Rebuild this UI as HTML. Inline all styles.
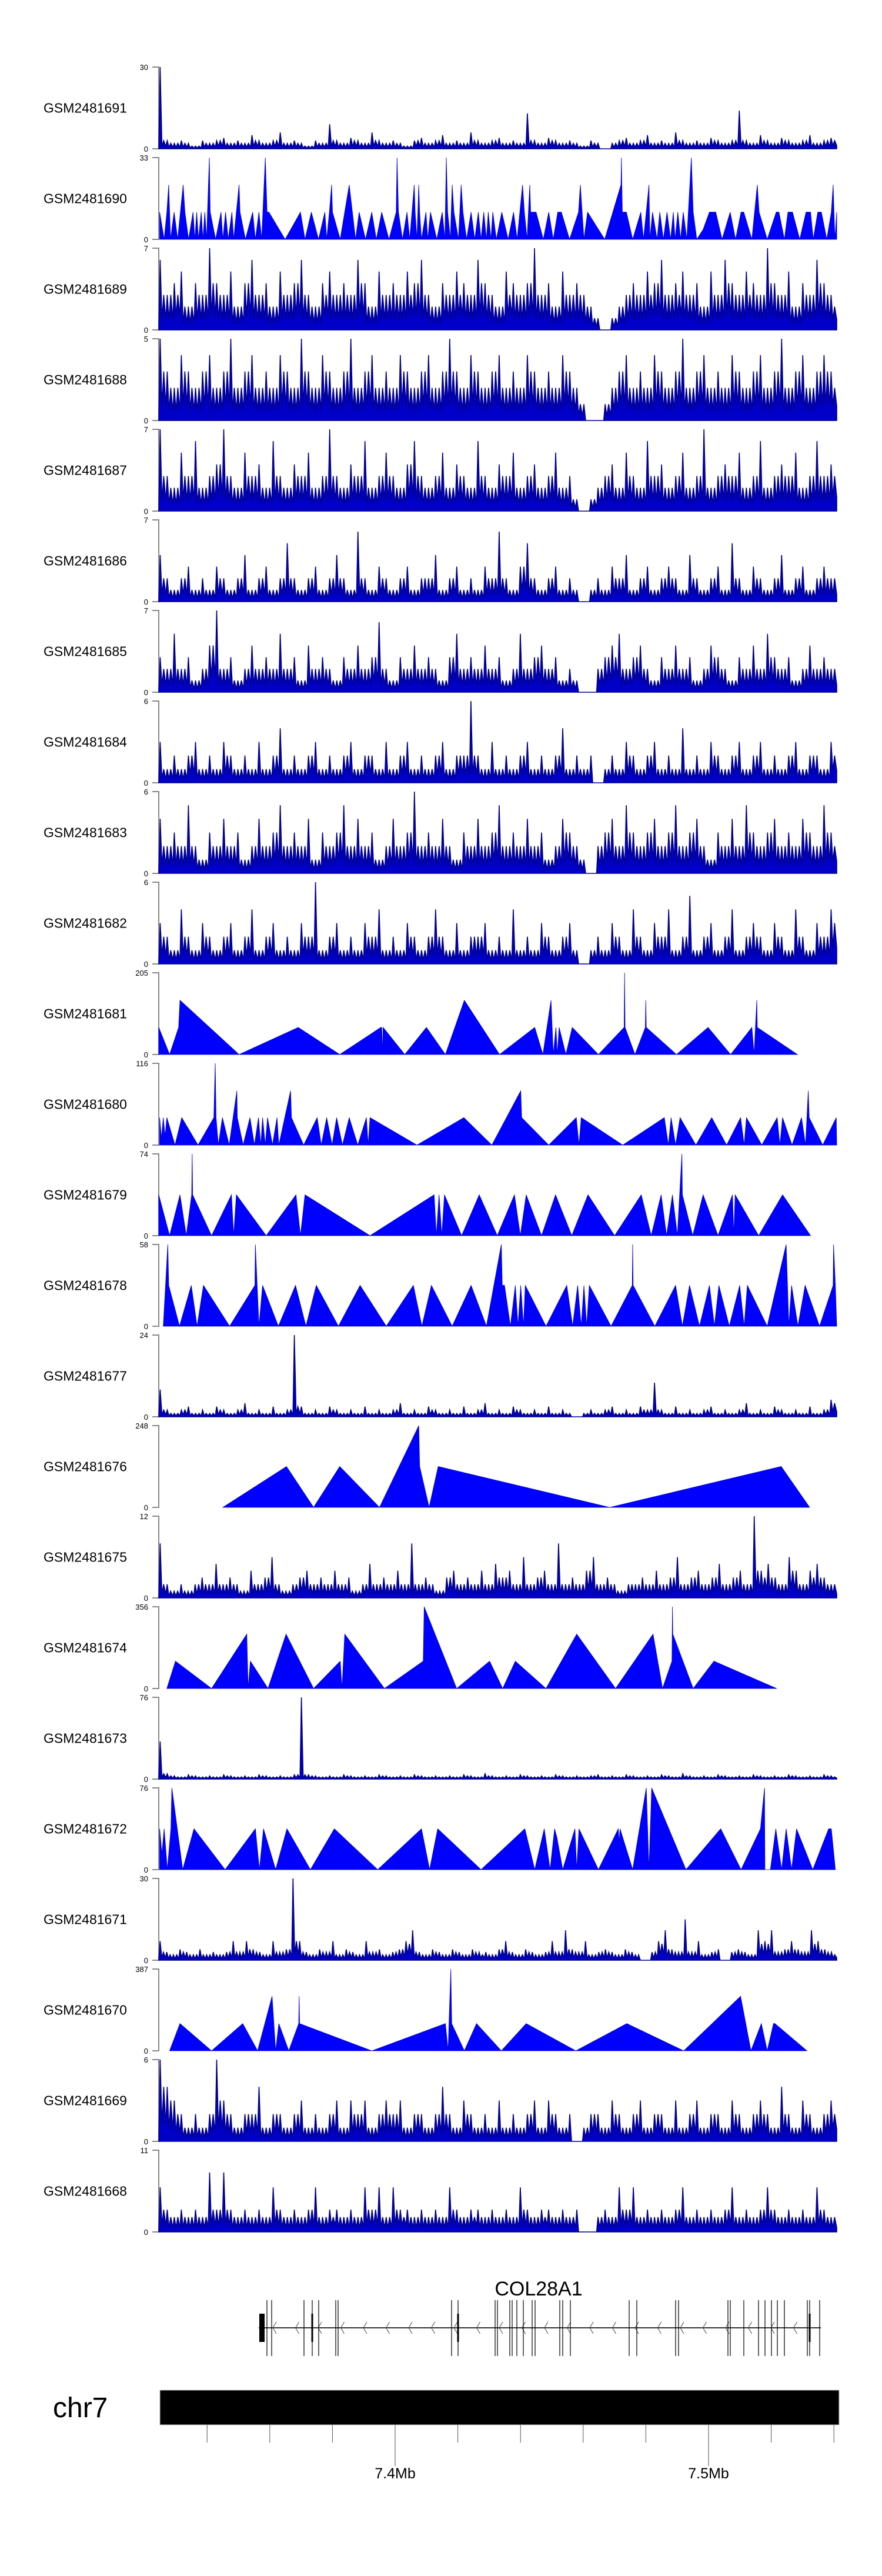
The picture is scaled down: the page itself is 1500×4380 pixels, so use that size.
<!DOCTYPE html>
<html><head><meta charset="utf-8">
<style>
html,body{margin:0;padding:0;background:#fff;}
svg{display:block;}
text{font-family:"Liberation Sans",sans-serif;}
</style></head>
<body>
<svg id="chart" width="1500" height="4380" viewBox="0 0 1500 4380" xmlns="http://www.w3.org/2000/svg">
<rect x="0" y="0" width="1500" height="4380" fill="#fff"/>
<g id="tracks"></g>
<g id="gene"></g>
<g id="ideo"></g>
</svg>
<script>
// ---- data ----
const sampleNames = ["GSM2481691","GSM2481690","GSM2481689","GSM2481688","GSM2481687","GSM2481686","GSM2481685","GSM2481684","GSM2481683","GSM2481682","GSM2481681","GSM2481680","GSM2481679","GSM2481678","GSM2481677","GSM2481676","GSM2481675","GSM2481674","GSM2481673","GSM2481672","GSM2481671","GSM2481670","GSM2481669","GSM2481668"];
const yMaxLabels = [30,33,7,5,7,7,7,6,6,6,205,116,74,58,24,248,12,356,76,76,30,387,6,11];
const trackKinds = ["bins","peaks","bins","bins","bins","bins","bins","bins","bins","bins","peaks","peaks","peaks","peaks","bins","peaks","bins","peaks","bins","peaks","bins","peaks","bins","bins"];

const bins1691 = [30,3,2,3,2,1,3,2,3,4,2,3,2,5,3,2,3,6,2,3,2,1,3,2,9,3,2,4,3,2,6,3,2,3,2,1,3,4,2,3,5,2,3,2,6,3,2,3,4,2,3,2,13,3,2,4,3,2,3,2,1,3,2,0,2,3,4,2,3,5,2,3,2,6,3,2,3,2,4,3,2,3,14,3,2,5,3,2,4,3,2,3,5,2,3,4];
const bins1689 = [6,3,4,5,2,4,3,7,4,3,5,2,4,6,3,4,2,5,3,4,6,3,2,4,5,3,4,3,6,4,2,5,3,4,3,5,4,6,3,2,4,3,5,4,3,6,4,3,2,5,4,3,4,7,3,4,2,5,3,4,3,2,1,0,1,2,3,4,3,5,4,6,3,4,5,3,4,2,5,3,6,4,3,5,4,3,7,4,3,5,2,4,3,6,4,3];
const bins1688 = [5,3,2,4,3,2,3,4,2,3,5,2,3,4,2,3,2,4,3,2,5,3,2,4,3,2,3,5,2,3,4,2,3,2,4,3,2,3,4,2,3,5,3,2,4,3,2,3,4,2,3,2,4,3,2,3,2,4,3,2,1,0,0,1,2,3,4,2,3,2,4,3,2,3,5,2,3,4,2,3,2,4,3,2,3,4,2,3,5,2,3,4,2,3,4,3];
const bins1687 = [7,3,2,5,3,6,2,3,4,7,3,2,5,3,4,2,6,3,2,4,3,5,2,3,7,3,2,4,3,6,2,3,5,3,2,4,6,3,2,3,5,2,4,3,2,6,3,2,4,3,5,2,3,4,2,3,5,2,3,1,0,1,2,3,4,2,5,3,2,6,3,4,2,3,5,2,3,7,2,3,4,3,5,2,3,6,2,3,4,3,5,2,3,6,3,4];
const bins1686 = [4,2,1,2,3,1,2,1,3,2,1,2,4,1,2,3,1,2,5,2,1,2,3,1,2,4,2,1,6,2,1,3,2,1,2,3,1,2,2,4,1,2,3,1,2,1,3,2,6,2,1,3,5,2,1,2,3,1,2,1,0,1,2,1,3,2,4,1,2,3,1,2,3,2,1,4,2,1,2,3,1,5,2,1,3,2,1,2,4,1,2,3,1,2,3,2];
const bins1685 = [3,2,5,2,3,1,2,4,7,2,3,1,2,4,2,3,2,5,2,3,1,4,2,3,2,1,3,2,4,2,3,6,2,1,3,2,4,2,3,2,1,3,5,2,3,2,4,2,3,1,2,5,2,3,4,2,3,1,2,1,0,0,2,3,4,5,2,3,4,2,1,3,2,4,2,3,1,2,4,3,2,1,3,2,4,2,5,3,2,3,1,2,4,2,3,2];
const bins1684 = [3,1,2,1,2,3,1,2,1,3,2,1,2,1,3,1,2,4,1,2,1,2,3,1,2,1,2,3,1,2,2,1,3,1,2,3,1,2,1,2,3,1,2,2,6,2,1,3,1,2,1,2,3,1,2,1,2,4,1,2,1,2,0,1,2,1,3,2,1,2,3,1,2,1,4,1,2,1,3,2,1,2,3,1,2,3,1,2,1,2,3,1,2,2,1,3];
const bins1683 = [4,2,3,2,5,2,1,3,2,4,2,3,1,2,4,2,3,5,2,3,2,4,1,3,2,3,5,2,4,2,3,1,2,4,2,3,6,2,3,2,4,2,1,3,2,4,2,3,5,2,3,2,4,2,3,1,2,4,3,2,1,0,2,3,4,2,5,3,2,3,4,2,3,5,2,3,4,2,1,3,2,4,2,5,3,2,3,4,2,3,2,4,3,2,5,3];
const bins1682 = [3,2,1,4,2,1,3,2,1,2,3,1,2,4,1,2,3,1,2,1,3,2,6,1,2,3,1,2,1,3,2,4,1,2,1,3,2,1,2,4,2,1,3,1,2,2,3,1,2,1,4,1,2,1,3,2,1,2,3,1,0,1,2,1,3,2,1,4,2,1,3,2,4,1,2,5,1,2,3,1,2,4,1,2,3,2,1,3,2,1,4,2,1,3,2,4];
const bins1677 = [8,2,1,2,3,1,2,1,3,2,1,2,4,1,2,1,3,1,2,24,3,1,2,1,3,2,1,2,1,3,1,2,1,2,4,1,2,1,3,2,1,2,1,3,1,2,4,1,2,1,3,2,1,2,1,3,1,2,1,0,1,2,1,2,3,1,2,1,3,2,10,2,1,3,1,2,1,2,3,1,2,1,2,4,1,2,1,3,2,1,2,1,3,1,2,5];
const bins1675 = [8,2,1,2,1,2,3,2,5,2,3,2,1,4,2,3,6,2,1,2,3,4,2,3,2,4,2,3,1,2,5,2,3,2,4,2,8,2,3,2,1,3,4,2,3,2,4,2,5,3,4,2,6,2,3,4,2,8,2,3,2,4,6,2,3,2,1,2,2,3,2,4,2,3,6,2,3,4,2,3,5,2,3,4,2,12,4,5,3,2,6,4,2,4,5,3,2];
const bins1673 = [35,5,3,2,4,3,2,3,2,4,3,2,3,2,4,3,2,3,2,4,76,4,3,2,3,2,4,3,2,3,2,4,3,2,3,2,4,3,2,3,2,3,2,4,3,2,5,3,2,3,2,4,3,2,3,2,4,3,2,3,2,3,4,2,3,2,4,3,2,3,2,4,3,2,5,3,2,3,2,4,3,2,3,2,4,3,2,3,2,4,3,2,3,2,4,3];
const bins1671 = [7,3,2,4,3,2,4,2,3,2,3,7,3,7,4,3,2,7,3,4,30,7,3,2,4,3,7,2,4,3,2,7,3,4,2,3,4,7,11,3,2,4,3,2,4,3,2,4,3,3,2,4,7,3,2,4,3,2,3,7,3,11,4,3,7,2,3,4,3,2,4,3,2,0,3,7,11,4,3,15,3,7,2,3,4,0,3,4,3,2,11,7,11,3,4,7,4,3,11,7,4,3];
const bins1669 = [6,4,3,2,1,2,1,2,6,3,2,1,2,2,4,1,2,2,1,2,3,1,2,1,2,3,1,3,2,3,1,2,3,2,3,1,2,2,1,2,4,2,1,3,2,1,2,1,3,1,2,1,2,3,1,3,2,1,2,0,1,2,2,1,3,2,1,2,3,1,2,2,1,3,1,2,3,1,2,2,1,3,2,1,2,3,2,1,4,2,1,3,2,1,2,3];
const bins1668 = [6,3,2,3,2,3,2,8,3,8,3,2,3,2,3,2,6,3,2,3,2,3,6,2,3,3,2,3,2,6,3,6,2,6,3,3,2,3,2,3,2,6,3,2,3,3,2,3,2,3,2,6,3,2,3,3,2,3,2,3,0,0,2,3,2,6,3,6,2,3,2,3,2,3,6,2,3,2,3,2,3,6,2,3,2,3,6,3,2,3,2,3,2,6,3,2];

const pos1690 = [28,38,44,48,52,60,68,74,80,84,92,102,106,110,114,120,124,128,132,138,140,152,164,168,174,180,188,192,198,204,206,218,234,240,248,254,262,266,270,306,340,350,364,380,394,398,404,409,411,428,448,462,470,484,498,508,520,536,552,554,557,566,576,582,592,594,598,602,604,608,618,622,628,642,654,660,663,666,672,676,680,690,696,700,708,718,726,734,740,746,752,756,762,766,774,786,800,812,820,832,836,842,848,850,862,878,890,900,910,918,936,956,960,964,968,976,1014,1050,1051,1053,1062,1076,1094,1100,1112,1114,1120,1130,1136,1144,1152,1160,1166,1170,1176,1182,1188,1196,1206,1210,1218,1232,1246,1260,1274,1292,1304,1316,1322,1340,1352,1356,1374,1394,1400,1412,1420,1430,1446,1460,1470,1476,1486,1494,1506,1516,1520,1524,1528];
const val1690 = [11,0,11,22,0,11,0,11,22,11,0,11,0,11,0,11,0,11,0,33,11,0,11,0,11,0,11,0,11,22,11,0,11,0,11,0,33,11,11,0,11,0,11,0,11,0,11,22,11,0,22,0,11,0,11,0,11,0,11,33,11,0,11,0,22,11,0,22,11,0,11,0,11,0,11,0,33,11,0,22,11,0,22,11,0,11,0,11,0,11,0,11,0,11,0,11,0,11,0,22,11,0,22,11,11,0,11,0,11,11,0,11,22,11,0,11,0,22,33,11,11,0,11,0,22,0,11,0,11,0,11,0,11,0,11,0,11,0,33,11,0,4,11,11,0,11,0,11,11,0,22,11,0,11,11,0,11,11,0,11,11,0,11,11,0,11,22,0,11];
const pos1681 = [26,50,70,73,204,335,427,518,520,522,523,571,619,661,703,781,859,877,895,900,906,909,913,928,942,1000,1057,1058,1059,1081,1104,1105,1106,1173,1243,1293,1340,1345,1351,1352,1441];
const val1681 = [68,0,68,136,0,68,0,68,68,0,68,0,68,0,136,0,68,0,136,0,68,0,68,0,68,0,68,205,68,0,68,136,68,0,68,0,68,0,136,68,0];
const pos1680 = [28,32,36,40,44,62,77,113,148,151,153,158,167,182,199,200,213,228,238,247,252,256,262,267,278,288,292,318,320,347,377,386,398,410,420,433,448,467,486,490,494,598,702,764,828,830,890,951,957,962,1054,1146,1155,1161,1171,1181,1216,1251,1284,1315,1323,1328,1362,1396,1402,1408,1429,1450,1459,1465,1467,1497,1527,1528];
const val1680 = [39,10,39,13,39,0,39,0,39,116,39,0,39,0,77,39,0,39,0,39,0,39,0,39,0,39,0,77,39,0,39,0,39,0,39,0,39,0,39,0,39,0,39,0,77,39,0,39,0,39,0,39,0,39,0,39,0,39,0,39,0,39,0,39,0,39,0,39,0,77,39,0,39,0];
const pos1679 = [26,50,73,87,99,100,101,143,187,192,198,264,330,340,350,494,636,641,647,653,659,697,736,776,814,827,840,874,905,941,977,1036,1095,1117,1139,1151,1164,1175,1185,1186,1209,1232,1265,1297,1300,1303,1355,1408,1470];
const val1679 = [37,0,37,0,37,74,37,0,37,0,37,0,37,0,37,0,37,0,37,0,37,0,37,0,37,0,37,0,37,0,37,0,37,0,37,0,37,0,74,37,0,37,0,37,0,37,0,37,0];
const pos1678 = [36,46,48,72,98,111,125,183,239,240,248,256,291,329,352,375,424,472,530,590,609,630,676,718,752,785,787,792,805,816,822,828,834,838,884,930,943,954,962,968,974,980,1028,1075,1076,1077,1125,1171,1186,1202,1224,1246,1257,1267,1290,1313,1323,1330,1374,1416,1422,1428,1442,1458,1490,1520,1521,1525,1528];
const val1678 = [0,58,29,0,29,0,29,0,29,58,0,29,0,29,0,29,0,29,0,29,0,29,0,29,0,58,29,29,0,29,0,29,0,29,0,29,0,29,0,29,0,29,0,29,58,29,0,29,0,29,0,29,0,29,0,29,0,29,0,58,0,29,0,29,0,29,58,29,0];
const pos1676 = [168,309,369,427,515,602,604,625,645,1025,1405,1468];
const val1676 = [0,124,0,124,0,248,124,0,124,0,124,0];
const pos1674 = [44,63,143,221,224,229,268,308,369,428,432,438,526,612,614,686,759,788,816,884,952,1038,1121,1142,1163,1164,1165,1210,1256,1395];
const val1674 = [0,119,0,237,0,119,0,237,0,119,0,237,0,119,356,0,119,0,119,0,237,0,237,0,119,356,237,0,119,0];
const pos1672 = [28,33,38,45,53,55,67,79,104,173,240,249,258,285,310,362,415,511,608,626,644,740,837,859,880,893,903,908,921,948,952,957,1000,1044,1046,1048,1076,1106,1112,1118,1194,1271,1316,1359,1368,1369,1381,1393,1406,1416,1428,1439,1475,1510,1516,1525];
const val1672 = [38,15,38,0,38,76,38,0,38,0,38,0,38,0,38,0,38,0,38,0,38,0,38,0,38,0,38,30,0,38,0,38,0,38,25,38,0,76,0,76,0,38,0,38,76,0,0,38,0,38,0,38,0,38,38,0];
const pos1670 = [50,73,143,212,245,277,285,292,314,336,337,338,498,661,667,673,675,703,730,785,840,950,1063,1189,1315,1338,1361,1374,1388,1391,1462];
const val1670 = [0,129,0,129,0,258,0,129,0,129,258,129,0,129,0,387,129,0,129,0,129,0,129,0,258,0,129,0,129,129,0];

const binSeries = {0:bins1691,2:bins1689,3:bins1688,4:bins1687,5:bins1686,6:bins1685,7:bins1684,8:bins1683,9:bins1682,14:bins1677,16:bins1675,18:bins1673,20:bins1671,22:bins1669,23:bins1668};
const peakPos = {1:pos1690,10:pos1681,11:pos1680,12:pos1679,13:pos1678,15:pos1676,17:pos1674,19:pos1672,21:pos1670};
const peakVal = {1:val1690,10:val1681,11:val1680,12:val1679,13:val1678,15:val1676,17:val1674,19:val1672,21:val1670};

const exonPos = [454,462,517,531,542,571,575,768,779,842,846,867,871,879,890,905,910,952,957,970,1070,1083,1149,1154,1238,1242,1265,1290,1301,1312,1322,1334,1373,1377,1394];
const exonThick = [531,779,1377];
const axisTicksMb = [7.34,7.36,7.38,7.40,7.42,7.44,7.46,7.48,7.50,7.52,7.54];
const axisLabelsMb = ["7.4Mb","7.5Mb"];

// ---- layout ----
const NS = "http://www.w3.org/2000/svg";
const X0 = 270, X1 = 1423, TOP0 = 114, STEP = 154, H = 139;
const posMin = 26, posMax = 1528;
function xScale(p){ return X0 + (p - posMin) / (posMax - posMin) * (X1 - X0); }
function yScale(v, top, max){ return top + H - (v / max) * H; }
function mk(tag, attrs, parent){ const e = document.createElementNS(NS, tag); for (const k in attrs) e.setAttribute(k, attrs[k]); parent.appendChild(e); return e; }

const tracksG = document.getElementById("tracks");
sampleNames.forEach((name, i) => {
  const top = TOP0 + STEP * i, bot = top + H, max = yMaxLabels[i];
  const g = mk("g", {}, tracksG);
  
  
  const lab = mk("text", {x: 74, y: top + H/2 + 8, "font-size": 23, fill: "#000"}, g);
  lab.textContent = name;
  
  
  const ax = mk("path", {d: `M259 ${top}H${X0}V${bot}H259`, stroke: "#888", "stroke-width": 2, fill: "none"}, g);
  
  
  const tMax = mk("text", {x: 252, y: top + 5, "font-size": 13, "text-anchor": "end", fill: "#000"}, g);
  tMax.textContent = String(max);
  
  
  const tMin = mk("text", {x: 252, y: bot + 5, "font-size": 13, "text-anchor": "end", fill: "#000"}, g);
  tMin.textContent = "0";
  
  

  let pts = [];
  if (trackKinds[i] === "bins") {
    const vals = binSeries[i], n = vals.length, w = (X1 - X0) / n;
    pts.push([X0, bot]);
    for (let k = 0; k < n; k++) {
      const xl = X0 + k * w;
      const nxt = k + 1 < n ? vals[k+1] : vals[k];
      const dip = Math.min(vals[k], nxt) * 0.3;
      const second = Math.max(dip, Math.min(vals[k], nxt, Math.ceil((vals[k] + nxt) / 3)));
      pts.push([xl + w * 0.2, yScale(vals[k], top, max)]);
      pts.push([xl + w * 0.45, yScale(dip, top, max)]);
      pts.push([xl + w * 0.7, yScale(second, top, max)]);
      pts.push([xl + w, yScale(dip, top, max)]);
    }
    pts.push([X1, bot]);
    const poly = mk("polygon", {points: pts.map(p => p[0].toFixed(1) + "," + p[1].toFixed(1)).join(" "), fill: "#0000c8", stroke: "#000088", "stroke-width": 1.6, "stroke-linejoin": "miter"}, g);
    
    
  } else {
    const ps = peakPos[i], vs = peakVal[i];
    pts.push([xScale(ps[0]), bot]);
    for (let k = 0; k < ps.length; k++) pts.push([xScale(ps[k]), yScale(vs[k], top, max)]);
    pts.push([xScale(ps[ps.length - 1]), bot]);
    const poly = mk("polygon", {points: pts.map(p => p[0].toFixed(1) + "," + p[1].toFixed(1)).join(" "), fill: "#0000ff", stroke: "#0000cc", "stroke-width": 0.8}, g);
    
    
  }
});

// ---- gene track ----
const geneG = document.getElementById("gene");
const gl = mk("text", {x: 916, y: 3903, "font-size": 34, "text-anchor": "middle", fill: "#000"}, geneG);
gl.textContent = "COL28A1";


const gline = mk("line", {x1: 440, y1: 3958, x2: 1396, y2: 3958, stroke: "#333", "stroke-width": 2}, geneG);


for (let x = 466; x < 1390; x += 38.5) {
  const c = mk("path", {d: `M${x+4} 3948L${x-2} 3958L${x+4} 3968`, stroke: "#444", "stroke-width": 1, fill: "none"}, geneG);
  
  
}
const ex0 = mk("rect", {x: 441, y: 3934, width: 9, height: 48, fill: "#000"}, geneG);


exonPos.forEach(x => {
  const ex = mk("line", {x1: x, y1: 3911, x2: x, y2: 4006, stroke: "#000", "stroke-width": 1.2}, geneG);
  
  
});
exonThick.forEach(x => {
  const ex = mk("rect", {x: x - 1.5, y: 3934, width: 3, height: 48, fill: "#000"}, geneG);
  
  
});

// ---- ideogram & genome axis ----
const idG = document.getElementById("ideo");
function mbX(mb){ return 672 + (mb - 7.4) / 0.1 * 533; }
const chrLab = mk("text", {x: 90, y: 4110, "font-size": 48, fill: "#000"}, idG);
chrLab.textContent = "chr7";


const bar = mk("rect", {x: 272, y: 4064, width: 1155, height: 59, fill: "#000", stroke: "#bbb", "stroke-width": 1}, idG);


axisTicksMb.forEach(mb => {
  const major = Math.abs(mb - 7.4) < 1e-6 || Math.abs(mb - 7.5) < 1e-6;
  const t = mk("line", {x1: mbX(mb), y1: 4123, x2: mbX(mb), y2: major ? 4193 : 4153, stroke: "#555", "stroke-width": 1}, idG);
  
  
});
[7.4, 7.5].forEach((mb, k) => {
  const t = mk("text", {x: mbX(mb), y: 4214, "font-size": 25, "text-anchor": "middle", fill: "#000"}, idG);
  t.textContent = axisLabelsMb[k];
  
  
});
</script>
</body></html>
